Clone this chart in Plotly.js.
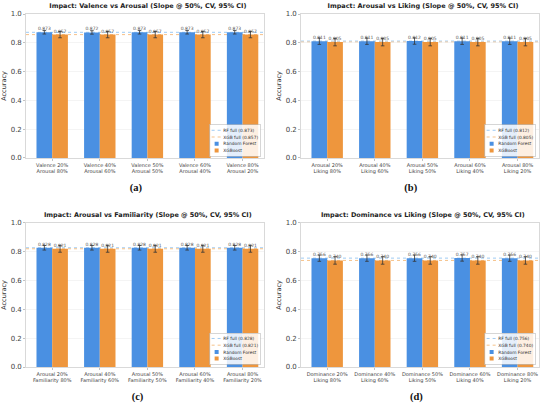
<!DOCTYPE html>
<html><head><meta charset="utf-8">
<script src="https://cdn.plot.ly/plotly-3.0.1.min.js"></script>
<style>html,body{margin:0;padding:0;background:#fff;overflow:hidden;width:550px;height:405px}
#chart{transform:scale(0.33333);transform-origin:0 0}</style>
</head><body><div id="chart" style="width:1650px;height:1215px"></div>
<script>
const panelTitles = [
  "Impact: Valence vs Arousal (Slope @ 50%, CV, 95% CI)",
  "Impact: Arousal vs Liking (Slope @ 50%, CV, 95% CI)",
  "Impact: Arousal vs Familiarity (Slope @ 50%, CV, 95% CI)",
  "Impact: Dominance vs Liking (Slope @ 50%, CV, 95% CI)"
];
const panelLetters = ["(a)", "(b)", "(c)", "(d)"];
const catsA = ["Valence 20%<br>Arousal 80%", "Valence 40%<br>Arousal 60%", "Valence 50%<br>Arousal 50%", "Valence 60%<br>Arousal 40%", "Valence 80%<br>Arousal 20%"];
const catsB = ["Arousal 20%<br>Liking 80%", "Arousal 40%<br>Liking 60%", "Arousal 50%<br>Liking 50%", "Arousal 60%<br>Liking 40%", "Arousal 80%<br>Liking 20%"];
const catsC = ["Arousal 20%<br>Familiarity 80%", "Arousal 40%<br>Familiarity 60%", "Arousal 50%<br>Familiarity 50%", "Arousal 60%<br>Familiarity 40%", "Arousal 80%<br>Familiarity 20%"];
const catsD = ["Dominance 20%<br>Liking 80%", "Dominance 40%<br>Liking 60%", "Dominance 50%<br>Liking 50%", "Dominance 60%<br>Liking 40%", "Dominance 80%<br>Liking 20%"];

const rfA = [0.873, 0.872, 0.873, 0.873, 0.873];
const xgbA = [0.857, 0.857, 0.857, 0.857, 0.857];
const rfErrA = [0.012, 0.012, 0.012, 0.012, 0.012];
const xgbErrA = [0.022, 0.022, 0.022, 0.022, 0.022];

const rfB = [0.811, 0.811, 0.812, 0.811, 0.811];
const xgbB = [0.805, 0.805, 0.805, 0.805, 0.805];
const rfErrB = [0.022, 0.022, 0.022, 0.022, 0.022];
const xgbErrB = [0.026, 0.026, 0.026, 0.026, 0.026];

const rfC = [0.828, 0.828, 0.828, 0.828, 0.828];
const xgbC = [0.821, 0.821, 0.821, 0.821, 0.821];
const rfErrC = [0.016, 0.016, 0.016, 0.016, 0.016];
const xgbErrC = [0.024, 0.024, 0.024, 0.024, 0.024];

const rfD = [0.756, 0.756, 0.756, 0.757, 0.756];
const xgbD = [0.740, 0.740, 0.740, 0.740, 0.740];
const rfErrD = [0.022, 0.022, 0.022, 0.022, 0.022];
const xgbErrD = [0.026, 0.026, 0.026, 0.026, 0.026];

const rfFull = [0.873, 0.812, 0.828, 0.756];
const xgbFull = [0.857, 0.805, 0.821, 0.740];

const panels = [
  {cats: catsA, rf: rfA, xgb: xgbA, rfErr: rfErrA, xgbErr: xgbErrA},
  {cats: catsB, rf: rfB, xgb: xgbB, rfErr: rfErrB, xgbErr: xgbErrB},
  {cats: catsC, rf: rfC, xgb: xgbC, rfErr: rfErrC, xgbErr: xgbErrC},
  {cats: catsD, rf: rfD, xgb: xgbD, rfErr: rfErrD, xgbErr: xgbErrD}
];

// render at 3x and scale down with CSS so small legend entries stay compact
const S = 3;
const BLUE = "#4A90E2", ORANGE = "#EE963D";
const LBLUE = "#9FCBF3", LORANGE = "#F6C28A";
const FONT = "DejaVu Sans";

const xDomains = [[0.0473, 0.48], [0.5473, 0.98], [0.0473, 0.48], [0.5473, 0.98]];
const yDomains = [[0.6099, 0.9654], [0.6099, 0.9654], [0.0938, 0.4494], [0.0938, 0.4494]];
const legendPos = [[0.474, 0.614], [0.974, 0.614], [0.474, 0.1], [0.974, 0.1]];
const titlePos = [[0.269, 0.985], [0.769, 0.985], [0.269, 0.469], [0.769, 0.469]];
const letterPos = [[0.247, 0.536], [0.747, 0.536], [0.25, 0.02], [0.757, 0.02]];

const traces = [];
const layout = {
  width: 550 * S, height: 405 * S,
  margin: {l: 0, r: 0, t: 0, b: 0},
  paper_bgcolor: "#fff", plot_bgcolor: "#fff",
  barmode: "group", bargap: 0.34, bargroupgap: 0,
  font: {family: FONT, color: "#333"},
  showlegend: true,
  shapes: [], annotations: []
};

panels.forEach((p, i) => {
  const n = i + 1;
  const sfx = n === 1 ? "" : String(n);
  const xa = "x" + sfx, ya = "y" + sfx, lg = "legend" + sfx;
  traces.push({type: "scatter", x: [null], y: [null], mode: "lines", xaxis: xa, yaxis: ya, legend: lg,
    name: "RF full (" + rfFull[i].toFixed(3) + ")", line: {color: LBLUE, dash: "dash", width: 1 * S}, hoverinfo: "skip"});
  traces.push({type: "scatter", x: [null], y: [null], mode: "lines", xaxis: xa, yaxis: ya, legend: lg,
    name: "XGB full (" + xgbFull[i].toFixed(3) + ")", line: {color: LORANGE, dash: "dash", width: 1 * S}, hoverinfo: "skip"});
  traces.push({type: "bar", x: p.cats, y: p.rf, name: "Random Forest", xaxis: xa, yaxis: ya, legend: lg,
    marker: {color: BLUE, line: {width: 0}}, offsetgroup: "rf",
    error_y: {type: "data", array: p.rfErr, visible: true, color: "#333", thickness: 0.8 * S, width: 1.8 * S},
    texttemplate: "%{y:.3f}", textposition: "outside", cliponaxis: false, constraintext: "none",
    textfont: {size: 4.5 * S, color: "#555", family: FONT}});
  traces.push({type: "bar", x: p.cats, y: p.xgb, name: "XGBoost", xaxis: xa, yaxis: ya, legend: lg,
    marker: {color: ORANGE, line: {width: 0}}, offsetgroup: "xgb",
    error_y: {type: "data", array: p.xgbErr, visible: true, color: "#333", thickness: 0.8 * S, width: 1.8 * S},
    texttemplate: "%{y:.3f}", textposition: "outside", cliponaxis: false, constraintext: "none",
    textfont: {size: 4.5 * S, color: "#555", family: FONT}});

  layout["xaxis" + sfx] = {
    domain: xDomains[i], anchor: ya, type: "category", range: [-0.55, 4.45],
    showgrid: false, showline: true, linecolor: "#d0d0d0", linewidth: 0.8 * S, mirror: true,
    ticks: "outside", ticklen: 2 * S, tickcolor: "#999", tickwidth: 0.6 * S,
    tickfont: {size: 5 * S, color: "#444", family: FONT}, zeroline: false, fixedrange: true
  };
  layout["yaxis" + sfx] = {
    domain: yDomains[i], anchor: xa, range: [0, 1.0],
    dtick: 0.2, tickformat: ".1f",
    showgrid: true, gridcolor: "#ececec", gridwidth: 0.6 * S,
    showline: true, linecolor: "#d0d0d0", linewidth: 0.8 * S, mirror: true,
    ticks: "outside", ticklen: 2 * S, tickcolor: "#999", tickwidth: 0.6 * S,
    tickfont: {size: 7 * S, color: "#444", family: FONT}, zeroline: false,
    title: {text: "Accuracy", font: {size: 6.5 * S, color: "#333", family: FONT}, standoff: 3 * S},
    fixedrange: true
  };
  layout[lg] = {
    x: legendPos[i][0], y: legendPos[i][1], xanchor: "right", yanchor: "bottom",
    xref: "paper", yref: "paper",
    bgcolor: "rgba(255,255,255,0.85)", bordercolor: "#bbb", borderwidth: 0.6 * S,
    font: {size: 4.4 * S, color: "#333", family: FONT}, tracegroupgap: 0, itemwidth: 30
  };
  layout.shapes.push({type: "line", xref: xa + " domain", x0: 0, x1: 1, yref: ya, y0: rfFull[i], y1: rfFull[i],
    line: {color: LBLUE, dash: "dash", width: 1 * S}, layer: "below"});
  layout.shapes.push({type: "line", xref: xa + " domain", x0: 0, x1: 1, yref: ya, y0: xgbFull[i], y1: xgbFull[i],
    line: {color: LORANGE, dash: "dash", width: 1 * S}, layer: "below"});
  layout.annotations.push({text: "<b>" + panelTitles[i] + "</b>", xref: "paper", yref: "paper",
    x: titlePos[i][0], y: titlePos[i][1], xanchor: "center", yanchor: "middle", showarrow: false,
    font: {size: 6.5 * S, color: "#222", family: FONT}});
  layout.annotations.push({text: "<b>" + panelLetters[i] + "</b>", xref: "paper", yref: "paper",
    x: letterPos[i][0], y: letterPos[i][1], xanchor: "center", yanchor: "middle", showarrow: false,
    font: {size: 10.5 * S, color: "#111", family: "Liberation Serif"}});
});

Plotly.newPlot("chart", traces, layout, {displayModeBar: false, staticPlot: true});
</script></body></html>
